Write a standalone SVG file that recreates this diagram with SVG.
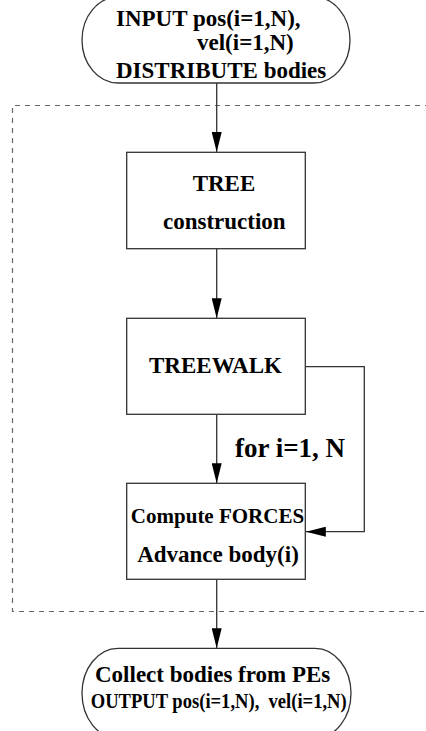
<svg xmlns="http://www.w3.org/2000/svg" width="426" height="731" viewBox="0 0 426 731">
<style>
.shape{fill:#fff;stroke:#333;stroke-width:1.3}
.conn{fill:none;stroke:#333;stroke-width:1.3}
.dash{fill:none;stroke:#666;stroke-width:1.2;stroke-dasharray:5 5}
.t23{font-size:23px}
</style>
<defs>
<marker id="ah" markerUnits="userSpaceOnUse" markerWidth="20" markerHeight="10" refX="20" refY="5" orient="auto">
<path d="M0,0 L20,5 L0,10 z" fill="#000"/>
</marker>
</defs>
<rect width="426" height="731" fill="#fff"/>
<path class="dash" d="M440,105.5 H12.5 V611.5 H440"/>
<g font-family="Liberation Serif, Times New Roman, serif" font-weight="bold" fill="#000">
<g id="connectors">
<line class="conn" x1="216.7" y1="83" x2="216.7" y2="152" marker-end="url(#ah)"/>
<line class="conn" x1="216.7" y1="248.7" x2="216.7" y2="318.3" marker-end="url(#ah)"/>
<line class="conn" x1="216.7" y1="414.3" x2="216.7" y2="483.3" marker-end="url(#ah)"/>
<polyline class="conn" points="305.3,366.7 364.3,366.7 364.3,531.7 305.8,531.7" marker-end="url(#ah)"/>
<line class="conn" x1="216.7" y1="579.3" x2="216.7" y2="648.3" marker-end="url(#ah)"/>
<text x="235" y="457" font-size="27">for i=1, N</text>
</g>
<g id="input">
<rect class="shape" x="82" y="-3" width="268" height="86" rx="36" ry="43"/>
<text class="t23" x="116" y="26">INPUT pos(i=1,N),</text>
<text class="t23" x="197" y="50">vel(i=1,N)</text>
<text class="t23" x="116" y="78">DISTRIBUTE bodies</text>
</g>
<g id="tree">
<rect class="shape" x="126.7" y="152.3" width="178.6" height="96.4"/>
<text class="t23" x="224" y="191" text-anchor="middle">TREE</text>
<text class="t23" x="224.3" y="229" text-anchor="middle">construction</text>
</g>
<g id="treewalk">
<rect class="shape" x="126.7" y="318.3" width="178.6" height="96"/>
<text class="t23" x="215.5" y="373" text-anchor="middle">TREEWALK</text>
</g>
<g id="compute">
<rect class="shape" x="126.7" y="483.3" width="178.6" height="96"/>
<text x="217.5" y="522.7" text-anchor="middle" font-size="21">Compute FORCES</text>
<text class="t23" x="218" y="561.7" text-anchor="middle">Advance body(i)</text>
</g>
<g id="output">
<rect class="shape" x="82" y="648.3" width="269" height="90" rx="36" ry="45"/>
<text class="t23" x="95" y="681.7">Collect bodies from PEs</text>
<text x="90.7" y="708.3" font-size="20" textLength="256" lengthAdjust="spacingAndGlyphs" xml:space="preserve">OUTPUT pos(i=1,N),  vel(i=1,N)</text>
</g>
</g>
</svg>
